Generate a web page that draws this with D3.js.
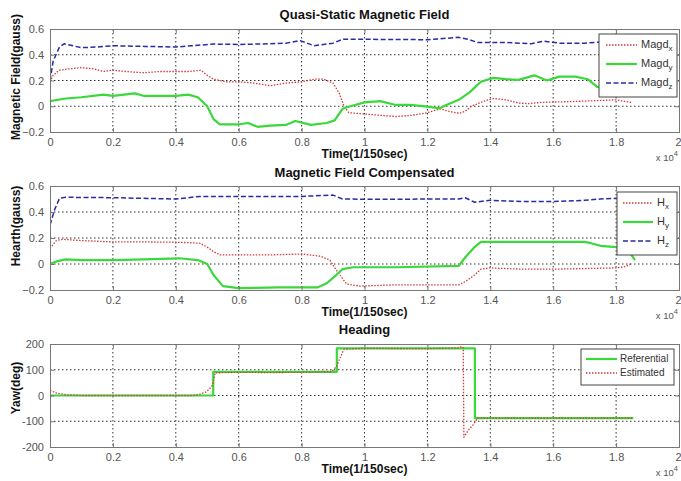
<!DOCTYPE html>
<html>
<head>
<meta charset="utf-8">
<script src="https://cdn.jsdelivr.net/npm/d3@7/dist/d3.min.js"></script>
<style>
  html, body { margin: 0; padding: 0; background: #fff; }
  svg { display: block; font-family: "Liberation Sans", Arial, sans-serif; }
</style>
</head>
<body>
<svg id="chart" width="681" height="481"></svg>
<script>
// Sample index axis, shown in units of 10^4 samples (1/150 s each)
const xTicks = [0, 0.2, 0.4, 0.6, 0.8, 1, 1.2, 1.4, 1.6, 1.8, 2];
const gaussTicks = [-0.2, 0, 0.2, 0.4, 0.6];
const yawTicks = [-200, -100, 0, 100, 200];

// Quasi-static magnetic field components [sample/1e4, gauss]
const magdX = [[0,0.19],[0.01,0.24],[0.03,0.28],[0.06,0.29],[0.1,0.30],[0.14,0.29],[0.17,0.27],[0.2,0.28],[0.24,0.27],[0.3,0.26],[0.35,0.27],[0.4,0.27],[0.44,0.27],[0.48,0.28],[0.5,0.24],[0.52,0.21],[0.56,0.19],[0.6,0.19],[0.65,0.18],[0.7,0.16],[0.75,0.18],[0.8,0.19],[0.84,0.21],[0.87,0.21],[0.9,0.18],[0.92,0.1],[0.935,0.0],[0.95,-0.05],[1.0,-0.06],[1.05,-0.07],[1.1,-0.08],[1.15,-0.07],[1.2,-0.05],[1.24,-0.02],[1.27,-0.04],[1.3,-0.055],[1.32,-0.04],[1.34,0.0],[1.38,0.04],[1.41,0.06],[1.45,0.05],[1.49,0.025],[1.52,0.02],[1.56,0.03],[1.64,0.035],[1.7,0.04],[1.75,0.045],[1.8,0.05],[1.85,0.03]];
const magdY = [[0,0.04],[0.05,0.06],[0.1,0.07],[0.17,0.09],[0.2,0.08],[0.27,0.1],[0.3,0.08],[0.4,0.08],[0.44,0.09],[0.47,0.07],[0.5,0.0],[0.52,-0.1],[0.54,-0.14],[0.6,-0.14],[0.63,-0.13],[0.66,-0.16],[0.7,-0.15],[0.75,-0.145],[0.78,-0.115],[0.83,-0.145],[0.88,-0.13],[0.905,-0.11],[0.93,-0.02],[0.955,0.0],[1.0,0.03],[1.05,0.04],[1.1,0.01],[1.145,0.01],[1.2,-0.003],[1.24,-0.016],[1.26,0.01],[1.3,0.05],[1.335,0.11],[1.37,0.19],[1.41,0.22],[1.45,0.21],[1.49,0.205],[1.54,0.24],[1.58,0.2],[1.62,0.23],[1.67,0.23],[1.71,0.21],[1.74,0.15],[1.8,0.13],[1.85,0.12]];
const magdZ = [[0,0.2],[0.01,0.35],[0.03,0.46],[0.045,0.485],[0.1,0.455],[0.15,0.46],[0.2,0.47],[0.3,0.465],[0.4,0.46],[0.45,0.47],[0.52,0.483],[0.6,0.48],[0.7,0.485],[0.75,0.49],[0.795,0.51],[0.84,0.47],[0.9,0.49],[0.93,0.52],[1.0,0.52],[1.2,0.517],[1.3,0.535],[1.33,0.52],[1.36,0.495],[1.45,0.495],[1.53,0.485],[1.57,0.505],[1.62,0.49],[1.7,0.49],[1.76,0.5],[1.8,0.525],[1.85,0.53]];

// Compensated Earth field components [sample/1e4, gauss]
const hX = [[0,0.12],[0.02,0.18],[0.04,0.19],[0.1,0.18],[0.2,0.17],[0.3,0.17],[0.41,0.167],[0.477,0.16],[0.5,0.13],[0.52,0.095],[0.54,0.07],[0.6,0.07],[0.7,0.07],[0.8,0.077],[0.86,0.06],[0.89,0.03],[0.91,-0.046],[0.943,-0.154],[0.986,-0.17],[1.1,-0.16],[1.2,-0.16],[1.3,-0.16],[1.32,-0.136],[1.35,-0.085],[1.37,-0.04],[1.4,-0.03],[1.5,-0.04],[1.6,-0.04],[1.7,-0.035],[1.8,-0.03],[1.83,-0.02],[1.85,0.005]];
const hY = [[0,0.0],[0.02,0.02],[0.05,0.035],[0.1,0.03],[0.2,0.03],[0.3,0.035],[0.41,0.044],[0.47,0.03],[0.5,0.0],[0.52,-0.085],[0.55,-0.17],[0.6,-0.185],[0.73,-0.18],[0.85,-0.18],[0.88,-0.148],[0.91,-0.085],[0.93,-0.04],[0.965,-0.025],[1.1,-0.025],[1.3,-0.015],[1.32,0.05],[1.35,0.13],[1.37,0.17],[1.5,0.17],[1.7,0.17],[1.72,0.16],[1.75,0.14],[1.8,0.13],[1.84,0.1],[1.86,0.03]];
const hZ = [[0,0.3],[0.015,0.42],[0.03,0.505],[0.05,0.513],[0.2,0.51],[0.4,0.5],[0.477,0.52],[0.6,0.52],[0.8,0.52],[0.9,0.53],[0.93,0.5],[1.0,0.498],[1.3,0.5],[1.32,0.51],[1.35,0.475],[1.4,0.49],[1.5,0.48],[1.6,0.48],[1.7,0.49],[1.75,0.5],[1.8,0.505],[1.85,0.505]];

// Heading [sample/1e4, degrees]
const yawRef = [[0,0],[0.519,0],[0.519,92],[0.912,92],[0.912,183],[1.351,183],[1.351,-88],[1.855,-88]];
const yawEst = [[0,20],[0.02,10],[0.05,3],[0.1,0],[0.455,0],[0.477,5],[0.498,15],[0.51,30],[0.517,40],[0.525,88],[0.6,90],[0.7,89],[0.8,90],[0.896,93],[0.912,115],[0.92,140],[0.935,180],[1.0,183],[1.2,182],[1.3,185],[1.31,191],[1.314,185],[1.316,-162],[1.33,-135],[1.346,-113],[1.36,-88],[1.855,-88]];

const STYLE = {
  red:   { stroke: "#d23a3a", width: 1.3, dash: "1.5,1.5" },
  green: { stroke: "#3ad83a", width: 2.2, dash: null },
  blue:  { stroke: "#2a2aa8", width: 1.5, dash: "5,2.5" }
};

const svg = d3.select("#chart");
const left = 50, right = 679;

const panels = [
  {
    top: 29, bottom: 132, domain: [-0.2, 0.6], ticks: gaussTicks, tickFmt: d => d3.format("")(d),
    title: "Quasi-Static Magnetic Field", titleY: 16, ylabel: "Magnetic Field(gauss)", ylabelY: 77,
    series: [
      { data: magdX, style: STYLE.red,   name: "Magd", sub: "x" },
      { data: magdY, style: STYLE.green, name: "Magd", sub: "y" },
      { data: magdZ, style: STYLE.blue,  name: "Magd", sub: "z" }
    ],
    legend: { x: 599, y: 34, w: 78, h: 63, line: [606, 637], text: 641, rows: [45, 64, 83], size: 11 }
  },
  {
    top: 186, bottom: 290, domain: [-0.2, 0.6], ticks: gaussTicks, tickFmt: d => d3.format("")(d),
    title: "Magnetic Field Compensated", titleY: 174, ylabel: "Hearth(gauss)", ylabelY: 226,
    series: [
      { data: hX, style: STYLE.red,   name: "H", sub: "x" },
      { data: hY, style: STYLE.green, name: "H", sub: "y" },
      { data: hZ, style: STYLE.blue,  name: "H", sub: "z" }
    ],
    legend: { x: 617, y: 192, w: 60, h: 63, line: [623, 653], text: 657, rows: [203, 222, 241], size: 11 }
  },
  {
    top: 344, bottom: 447, domain: [-200, 200], ticks: yawTicks, tickFmt: d => String(d),
    title: "Heading", titleY: 331, ylabel: "Yaw(deg)", ylabelY: 388,
    series: [
      { data: yawRef, style: STYLE.green, name: "Referential" },
      { data: yawEst, style: STYLE.red,   name: "Estimated" }
    ],
    legend: { x: 581, y: 349, w: 93, h: 36, line: [586, 617], text: 620, rows: [359, 373], size: 10 }
  }
];

const x = d3.scaleLinear().domain([0, 2]).range([left, right]);

panels.forEach(p => {
  const y = d3.scaleLinear().domain(p.domain).range([p.bottom, p.top]);
  const g = svg.append("g");
  const h = p.bottom - p.top;

  // plot background
  g.append("rect").attr("x", left).attr("y", p.top).attr("width", right - left).attr("height", h).attr("fill", "#fff");

  // dotted grid
  const grid = g.append("g").attr("stroke", "#333").attr("stroke-width", 1).attr("stroke-dasharray", "1.5,2.5");
  grid.selectAll("line.vx").data(xTicks.slice(1, -1)).join("line")
    .attr("x1", d => x(d)).attr("x2", d => x(d)).attr("y1", p.top).attr("y2", p.bottom);
  grid.selectAll("line.hy").data(p.ticks.slice(1, -1)).join("line")
    .attr("x1", left).attr("x2", right).attr("y1", d => y(d)).attr("y2", d => y(d));

  // data lines
  const line = d3.line().x(d => x(d[0])).y(d => y(d[1]));
  const clipId = "clip" + p.top;
  svg.append("clipPath").attr("id", clipId).append("rect")
    .attr("x", left).attr("y", p.top).attr("width", right - left).attr("height", h);
  const lines = g.append("g").attr("clip-path", `url(#${clipId})`);
  p.series.forEach(s => {
    lines.append("path").datum(s.data).attr("d", line)
      .attr("fill", "none").attr("stroke", s.style.stroke).attr("stroke-width", s.style.width)
      .attr("stroke-linejoin", "round")
      .attr("stroke-dasharray", s.style.dash);
  });

  // axes with inward ticks
  const axB = d3.axisBottom(x).tickValues(xTicks).tickSize(-4).tickPadding(6).tickFormat(d3.format(""));
  const axT = d3.axisTop(x).tickValues(xTicks).tickSize(-4).tickFormat("");
  const axL = d3.axisLeft(y).tickValues(p.ticks).tickSize(-4).tickPadding(6).tickFormat(p.tickFmt);
  const axR = d3.axisRight(y).tickValues(p.ticks).tickSize(-4).tickFormat("");
  [[axB, `translate(0,${p.bottom})`], [axT, `translate(0,${p.top})`],
   [axL, `translate(${left},0)`], [axR, `translate(${right},0)`]].forEach(([ax, tr]) => {
    const a = g.append("g").attr("transform", tr).call(ax);
    a.select(".domain").attr("stroke", "#777");
    a.selectAll(".tick line").attr("stroke", "#777");
    a.selectAll(".tick text").attr("fill", "#555").attr("font-size", 11)
      .attr("font-family", "Liberation Sans, Arial, sans-serif");
  });
  // keep the last x tick label inside the page edge
  g.selectAll(".tick text").filter(d => d === 2).attr("text-anchor", "end").attr("dx", 2);

  // title, axis labels, exponent
  g.append("text").attr("x", (left + right) / 2).attr("y", p.titleY).attr("text-anchor", "middle")
    .attr("dominant-baseline", "middle").attr("font-weight", "bold").attr("font-size", 13).attr("fill", "#111")
    .text(p.title);
  g.append("text").attr("x", (left + right) / 2).attr("y", p.bottom + 23).attr("text-anchor", "middle")
    .attr("dominant-baseline", "middle").attr("font-weight", "bold").attr("font-size", 12).attr("fill", "#111")
    .text("Time(1/150sec)");
  g.append("text").attr("transform", `translate(17,${p.ylabelY}) rotate(-90)`).attr("text-anchor", "middle")
    .attr("dominant-baseline", "middle").attr("font-weight", "bold").attr("font-size", 12).attr("fill", "#111")
    .text(p.ylabel);
  const ex = g.append("text").attr("x", 678).attr("y", p.bottom + 29).attr("text-anchor", "end")
    .attr("font-size", 9.5).attr("fill", "#555");
  ex.append("tspan").text("x 10");
  ex.append("tspan").attr("dy", -5).attr("font-size", 7.5).text("4");

  // legend
  const L = p.legend;
  const lg = g.append("g");
  lg.append("rect").attr("x", L.x).attr("y", L.y).attr("width", L.w).attr("height", L.h)
    .attr("fill", "#fff").attr("stroke", "#444").attr("stroke-width", 1);
  p.series.forEach((s, i) => {
    const ry = L.rows[i];
    lg.append("line").attr("x1", L.line[0]).attr("x2", L.line[1]).attr("y1", ry).attr("y2", ry)
      .attr("stroke", s.style.stroke).attr("stroke-width", s.style.width).attr("stroke-dasharray", s.style.dash);
    const t = lg.append("text").attr("x", L.text).attr("y", ry).attr("dominant-baseline", "middle")
      .attr("font-size", L.size).attr("fill", "#333");
    t.append("tspan").text(s.name);
    if (s.sub) t.append("tspan").attr("dy", 4).attr("font-size", 8).text(s.sub);
  });
});
</script>
</body>
</html>
